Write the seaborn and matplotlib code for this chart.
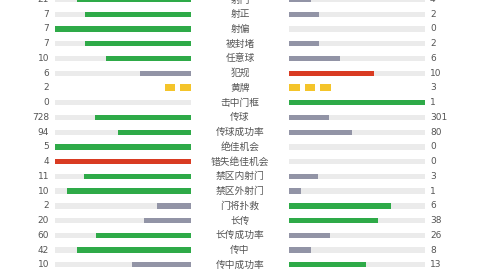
import matplotlib
matplotlib.use("Agg")
import matplotlib.pyplot as plt
import seaborn as sns
import pandas as pd
from matplotlib.patches import Rectangle

stats = ["射门", "射正", "射偏", "被封堵", "任意球", "犯规", "黄牌", "击中门框", "传球",
         "传球成功率", "绝佳机会", "错失绝佳机会", "禁区内射门", "禁区外射门", "门将扑救",
         "长传", "长传成功率", "传中", "传中成功率"]
home = [21, 7, 7, 7, 10, 6, 2, 0, 728, 94, 5, 4, 11, 10, 2, 20, 60, 42, 10]
away = [4, 2, 0, 2, 6, 10, 3, 1, 301, 80, 0, 0, 3, 1, 6, 38, 26, 8, 13]
bad_stats = ["犯规", "错失绝佳机会"]
card_stats = ["黄牌"]

GREEN = "#2eaa48"
GREY = "#9294a6"
RED = "#d93b22"
TRACK = "#ebebeb"
YELLOW = "#f4c42a"
TXT = "#555555"

def frac(a, b):
    return a / (a + b) if (a + b) > 0 else 0.0

def color_for(stat, a, b):
    if a > b:
        return RED if stat in bad_stats else GREEN
    return GREY

df = pd.DataFrame({"stat": stats, "home": home, "away": away})
df["hf"] = [0.0 if s in card_stats else frac(a, b) for s, a, b in zip(stats, home, away)]
df["af"] = [0.0 if s in card_stats else frac(b, a) for s, a, b in zip(stats, home, away)]
df["track"] = [0.0 if s in card_stats else 1.0 for s in stats]
hcol = {s: color_for(s, a, b) for s, a, b in zip(stats, home, away)}
acol = {s: color_for(s, b, a) for s, a, b in zip(stats, home, away)}

W, H = 480, 270
ROW = 14.74
Y0 = -0.5
ytop = -Y0 / ROW
ybot = (H - Y0) / ROW

fig = plt.figure(figsize=(4.8, 2.7), dpi=100)
fig.patch.set_facecolor("white")

axL = fig.add_axes([55 / W, 0, 136 / W, 1])
axR = fig.add_axes([289 / W, 0, 136 / W, 1])
axT = fig.add_axes([0, 0, 1, 1], zorder=-1)

BW = 0.36
for ax, col, pal in [(axL, "hf", hcol), (axR, "af", acol)]:
    sns.barplot(data=df, x="track", y="stat", color=TRACK, width=BW, saturation=1,
                linewidth=0, ax=ax, orient="h", errorbar=None)
    sns.barplot(data=df, x=col, y="stat", hue="stat", palette=pal, width=BW,
                saturation=1, linewidth=0, ax=ax, orient="h", legend=False, errorbar=None)
    ax.set_ylim(ybot, ytop)
    ax.axis("off")
axL.set_xlim(1, 0)
axR.set_xlim(0, 1)

# yellow cards
cw, cstep, ch = 0.078, 0.115, 0.48
for s in card_stats:
    i = stats.index(s)
    nh = home[i]
    na = away[i]
    for k in range(nh):
        axL.add_patch(Rectangle((k * cstep, i - ch / 2), cw, ch, color=YELLOW, lw=0))
    for k in range(na):
        axR.add_patch(Rectangle((k * cstep, i - ch / 2), cw, ch, color=YELLOW, lw=0))

axT.set_xlim(0, W)
axT.set_ylim(ybot, ytop)
axT.axis("off")
for i, (s, a, b) in enumerate(zip(stats, home, away)):
    axT.text(240, i, s, ha="center", va="center", fontsize=7, color=TXT,
             family=["Noto Sans CJK SC", "DejaVu Sans"])
    axT.text(49, i, str(a), ha="right", va="center", fontsize=6.5, color=TXT)
    axT.text(430, i, str(b), ha="left", va="center", fontsize=6.5, color=TXT)

fig.savefig("out.png", dpi=100, facecolor="white")
